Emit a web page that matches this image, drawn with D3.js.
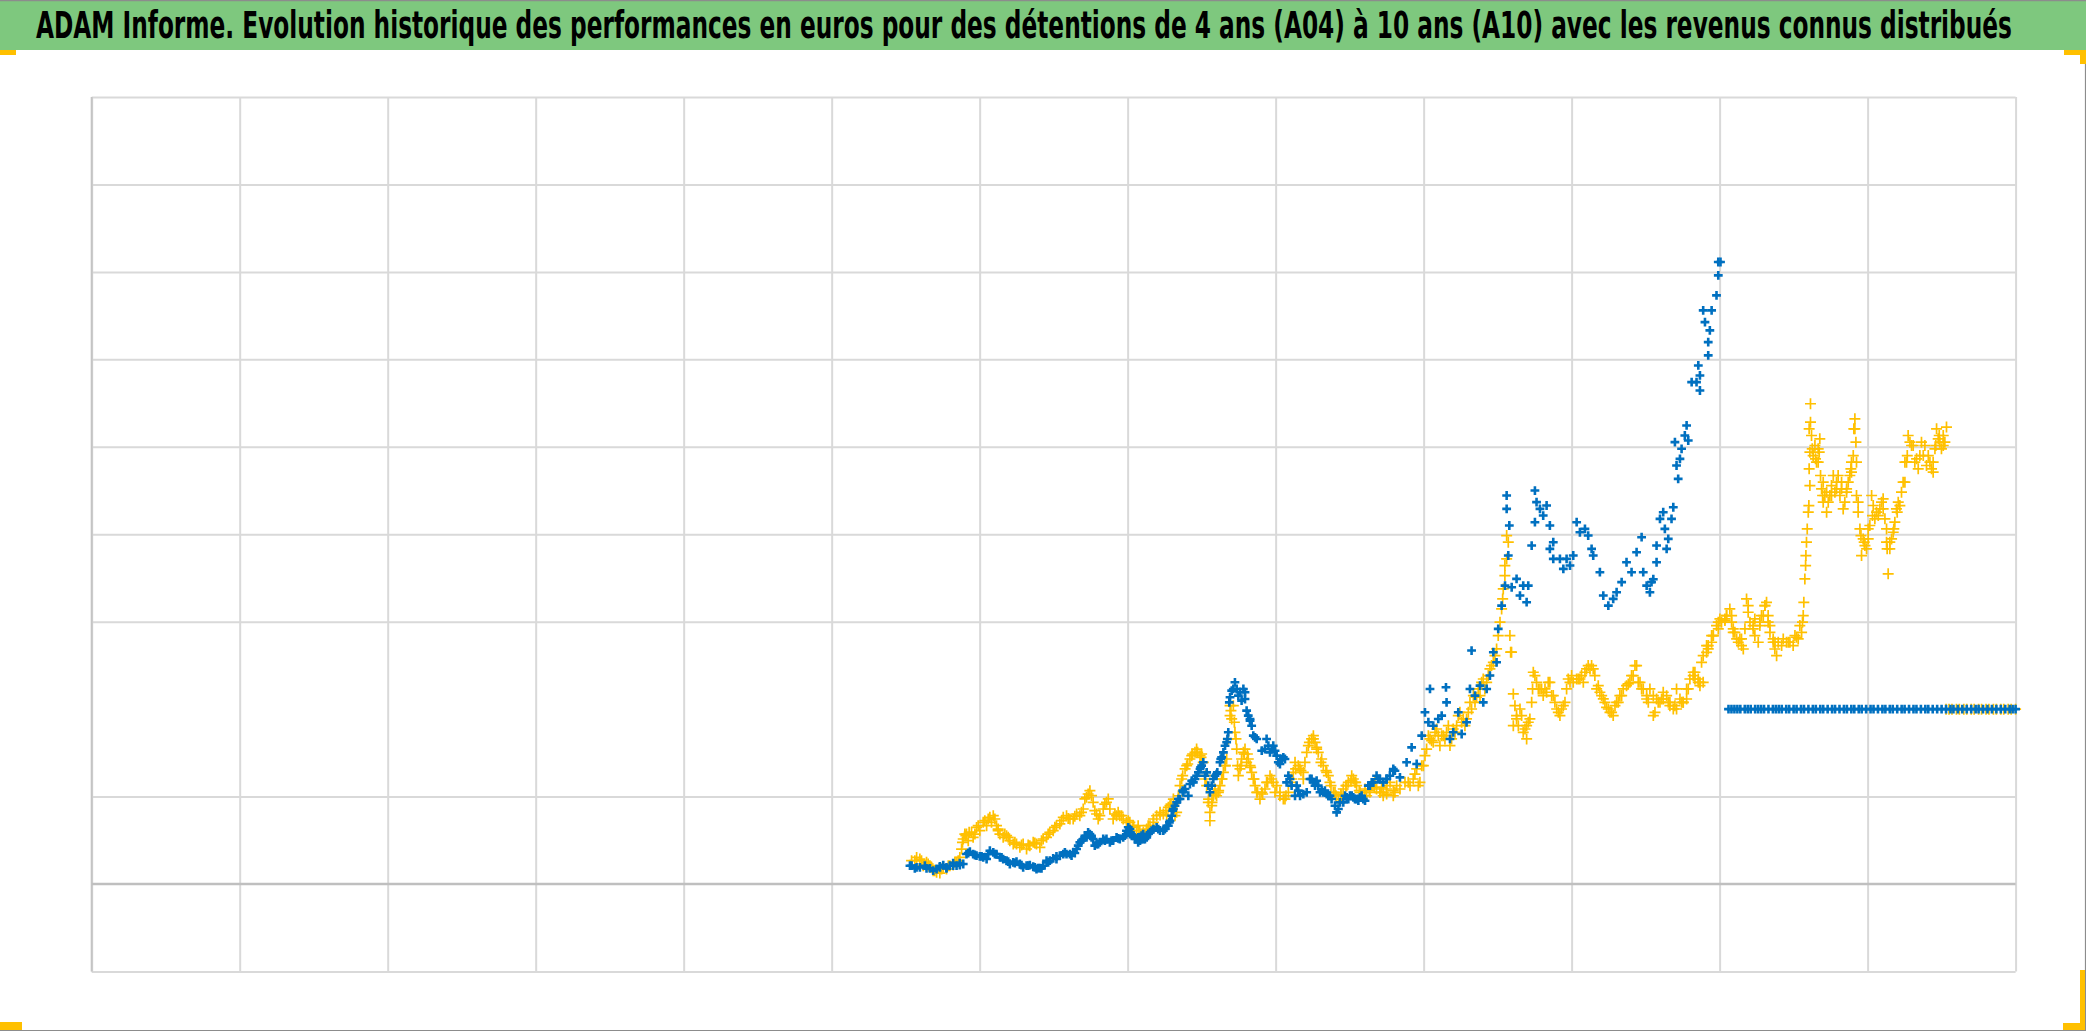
<!DOCTYPE html>
<html><head><meta charset="utf-8">
<script src="https://cdn.jsdelivr.net/npm/d3@7"></script>
<style>html,body{margin:0;padding:0;background:#fff;overflow:hidden}</style>
</head><body>
<svg id="chart" width="2086" height="1031"></svg>
<script>
// ---------- DATA (x in axis intervals, y in gridline units) ----------
const titleText = "ADAM Informe. Evolution historique des performances en euros pour des détentions de 4 ans (A04) à 10 ans (A10) avec les revenus connus distribués";
const xTicks = [0,1,2,3,4,5,6,7,8,9,10,11,12,13];
const yGridTicks = [-1,1,3,4,5,6,7,8,9];   // level 2 has no gridline in the source
const xDomain = [0, 13];
const yDomain = [-1, 9];

const blueEarly = [[5.540,0.21],[5.596,0.191],[5.664,0.179],[5.709,0.172],[5.754,0.217],[5.799,0.21],[5.844,0.21],[5.889,0.229],[5.911,0.343],[5.956,0.343],[6.001,0.317],[6.047,0.286],[6.092,0.362],[6.137,0.305],[6.182,0.267],[6.227,0.248],[6.272,0.229],[6.317,0.21],[6.362,0.198],[6.407,0.183],[6.429,0.21],[6.452,0.267],[6.497,0.294],[6.542,0.324],[6.565,0.343],[6.610,0.343],[6.632,0.362],[6.655,0.4],[6.677,0.477],[6.722,0.534],[6.745,0.572],[6.767,0.515],[6.790,0.458],[6.812,0.477],[6.857,0.515],[6.902,0.496],[6.947,0.515],[6.970,0.534],[6.992,0.61],[7.015,0.629],[7.037,0.553],
[7.061,0.515],[7.106,0.515],[7.151,0.591],[7.196,0.648],[7.241,0.61],[7.275,0.667],[7.298,0.781],[7.320,0.896],[7.354,0.972],[7.388,1.087],[7.421,1.144],[7.455,1.201],[7.489,1.316],[7.511,1.392],[7.534,1.277],[7.545,1.125],[7.556,1.049],[7.579,1.201],[7.601,1.258],[7.624,1.392],[7.647,1.506],[7.669,1.621],[7.680,1.735],[7.692,2.136],[7.703,2.212],[7.725,2.307],[7.748,2.155],[7.782,2.231],[7.793,2.116],[7.804,1.983],[7.827,1.888],[7.838,1.811],[7.861,1.678],[7.906,1.525],[7.939,1.659],[7.962,1.506],[7.984,1.582],[8.007,1.468],[8.029,1.373],[8.063,1.43],[8.086,1.239],[8.108,1.125],[8.142,1.125],[8.165,1.01],[8.210,1.049],[8.243,1.201],[8.277,1.182],[8.311,1.068],[8.345,1.029],[8.378,0.972],[8.412,0.82],[8.435,0.934],[8.469,1.01],[8.502,1.01],[8.536,0.972],[8.570,0.991],[8.604,0.953],[8.637,1.125],[8.682,1.239],[8.727,1.163]];

// further readings of the blue band (edges and in-between points)
const blueEarlyEdge = [[5.562,0.179],[5.630,0.21],[5.686,0.153],[5.731,0.191],[5.776,0.179],[5.821,0.24],[5.866,0.24],[5.934,0.37],[5.979,0.324],[6.024,0.305],[6.069,0.381],[6.114,0.343],[6.159,0.286],[6.204,0.229],[6.249,0.256],[6.294,0.191],[6.339,0.217],[6.384,0.172],[6.418,0.179],[6.474,0.267],[6.519,0.286],[6.576,0.362],[6.621,0.324],[6.666,0.439],[6.700,0.515],[6.733,0.591],[6.756,0.553],[6.778,0.439],[6.835,0.515],[6.880,0.477],[6.925,0.534],[6.981,0.553],[7.004,0.649],[7.026,0.572],[7.071,0.477],[7.105,0.572],
[7.039,0.553],[7.084,0.496],[7.129,0.534],[7.174,0.629],[7.219,0.61],[7.264,0.667],[7.286,0.724],[7.309,0.858],[7.331,0.934],[7.376,1.049],[7.410,1.01],[7.444,1.163],[7.478,1.277],[7.500,1.354],[7.523,1.239],[7.568,1.125],[7.590,1.239],[7.635,1.449],[7.658,1.582],[7.714,2.231],[7.770,2.097],[7.815,1.926],[7.849,1.697],[7.928,1.544],[7.973,1.544],[8.018,1.392],[8.041,1.43],[8.074,1.163],[8.131,1.01],[8.232,1.201],[8.266,1.125],[8.300,1.049],[8.333,1.068],[8.367,1.01],[8.424,0.858],[8.457,0.934],[8.491,0.972],[8.525,0.991],[8.559,0.953],[8.592,0.972],[8.626,1.125],[8.660,1.163],[8.705,1.201],[8.772,1.239],[8.806,1.296]];

const blueEarlyMid = [[5.529,0.21],[5.574,0.191],[5.641,0.179],[5.731,0.202],[5.776,0.191],[5.821,0.21],[5.866,0.217],[5.923,0.355],[5.968,0.332],[6.013,0.317],[6.058,0.343],[6.103,0.343],[6.148,0.305],[6.193,0.256],[6.238,0.24],[6.283,0.217],[6.328,0.21],[6.373,0.191],[6.396,0.183],[6.463,0.248],[6.519,0.317],[6.587,0.343],[6.643,0.355],[6.688,0.496],[6.711,0.553],[6.756,0.534],[6.801,0.458],[6.846,0.496],[6.891,0.496],[6.936,0.523],[7.015,0.591],[7.049,0.515],[7.094,0.553],[7.139,0.572],
[7.016,0.572],[7.072,0.534],[7.117,0.515],[7.162,0.61],[7.207,0.629],[7.252,0.629],[7.282,0.705],[7.304,0.839],[7.343,0.972],[7.372,1.068],[7.433,1.182],[7.466,1.239],[7.493,1.335],[7.606,1.277],[7.629,1.43],[7.674,1.659],[7.687,2.078],[7.737,2.231],[7.759,2.193],[7.793,2.193],[7.827,1.869],[7.872,1.659],[7.951,1.582],[7.996,1.525],[8.052,1.449],[8.097,1.201],[8.153,1.068],[8.187,1.029],[8.255,1.163],[8.288,1.125],[8.322,1.049],[8.356,1.01],[8.401,0.896],[8.480,0.991],[8.514,1.01],[8.547,0.972],[8.581,1.01],[8.649,1.163],[8.694,1.201],[8.750,1.201],[8.795,1.296]];

const blueLate = [[8.750,1.201],[8.795,1.316],[8.840,1.22],[8.885,1.392],[8.919,1.563],[8.953,1.373],[8.987,1.697],[9.009,1.964],[9.032,1.85],[9.043,2.231],[9.065,1.811],[9.099,1.888],[9.122,1.926],[9.151,2.25],[9.155,2.078],[9.178,1.659],[9.200,1.735],[9.234,1.964],[9.257,1.716],[9.290,1.85],[9.313,2.231],[9.324,2.67],[9.347,2.155],[9.381,2.269],[9.403,2.078],[9.426,2.231],[9.448,2.384],[9.471,2.651],[9.493,2.536],[9.504,2.918],[9.527,3.184],[9.550,3.413],[9.561,4.29],[9.561,4.443],[9.572,3.757],[9.579,4.1],[9.595,3.394],[9.628,3.49],[9.651,3.299],[9.673,3.413],[9.696,3.223],[9.707,3.413],[9.730,3.871],[9.752,4.138],[9.752,4.5],[9.763,4.367],[9.786,4.29],[9.808,4.214],[9.831,4.329],[9.853,4.1],[9.853,3.833],[9.876,3.909],[9.876,3.718],[9.921,3.718],[9.944,3.604],[9.966,3.718],[9.989,3.642],[10.011,3.757],[10.034,4.138],[10.056,4.023],[10.090,4.062],[10.112,3.985],[10.135,3.833],[10.146,3.757],[10.191,3.566],[10.214,3.299],[10.248,3.184],[10.281,3.261],[10.304,3.337],[10.338,3.452],[10.371,3.68],[10.405,3.566],[10.439,3.795],[10.473,3.966],[10.484,3.566],[10.507,3.413],[10.529,3.337],[10.540,3.452],
[10.552,3.486],[10.574,3.68],[10.574,3.871],[10.597,4.176],[10.619,4.252],[10.630,4.061],[10.642,3.833],[10.653,3.947],[10.675,4.176],[10.687,4.309],[10.698,5.053],[10.709,4.786],[10.720,4.633],[10.732,4.862],[10.743,4.977],[10.765,5.129],[10.777,5.244],[10.788,5.072],[10.811,5.74],[10.844,5.74],[10.856,5.93],[10.867,5.816],[10.867,5.644],[10.889,6.56],[10.901,6.426],[10.923,6.197],[10.923,6.045],[10.934,6.331],[10.946,6.56],[10.979,6.731],[10.991,6.96],[10.991,7.113],[11.006,7.113]];

const blueFlat = [[11.06,2],[11.08,2],[11.10,2],[11.12,2],[11.14,2],[11.17,2],[11.19,2],[11.21,2],[11.24,2],[11.26,2],[11.28,2],[11.30,2],[11.33,2],[11.36,2],[11.38,2],[11.40,2],[11.42,2],[11.45,2],[11.47,2],[11.50,2],[11.52,2],[11.55,2],[11.57,2],[11.60,2],[11.63,2],[11.65,2],[11.68,2],[11.70,2],[11.73,2],[11.76,2],[11.78,2],[11.81,2],[11.84,2],[11.86,2],[11.89,2],[11.91,2],[11.94,2],[11.96,2],[11.99,2],[12.02,2],[12.04,2],[12.07,2],[12.10,2],[12.12,2],[12.15,2],[12.17,2],[12.20,2],[12.23,2],[12.25,2],[12.28,2],[12.31,2],[12.33,2],[12.36,2],[12.39,2],[12.41,2],[12.44,2],[12.47,2],[12.50,2],[12.53,2],[12.56,2],[12.58,2],[12.61,2],[12.64,2],[12.67,2],[12.70,2],[12.73,2],[12.75,2],[12.78,2],[12.81,2],[12.84,2],[12.87,2],[12.90,2],[12.93,2],[12.96,2],[12.98,2],[13.00,2]];

const yellowEarly = [[5.540,0.267],[5.596,0.286],[5.641,0.248],[5.686,0.153],[5.709,0.134],[5.754,0.191],[5.799,0.21],[5.833,0.248],[5.866,0.305],[5.889,0.515],[5.911,0.572],[5.945,0.591],[5.979,0.648],[6.024,0.706],[6.069,0.763],[6.092,0.782],[6.114,0.668],[6.137,0.572],[6.170,0.572],[6.204,0.496],[6.249,0.458],[6.294,0.458],[6.339,0.439],[6.384,0.458],[6.429,0.515],[6.474,0.591],[6.519,0.668],[6.565,0.763],[6.610,0.744],[6.655,0.801],[6.700,0.858],[6.733,1.03],[6.756,1.011],[6.778,0.839],[6.812,0.782],[6.857,0.934],[6.880,0.858],[6.902,0.744],[6.936,0.82],[6.970,0.744],[7.015,0.706],
[7.061,0.61],[7.106,0.591],[7.151,0.667],[7.196,0.781],[7.241,0.8],[7.275,0.877],[7.309,0.972],[7.331,0.82],[7.354,1.125],[7.388,1.316],[7.421,1.43],[7.455,1.506],[7.489,1.468],[7.511,1.392],[7.534,1.125],[7.556,0.82],[7.579,1.01],[7.601,1.01],[7.624,1.125],[7.647,1.277],[7.669,1.43],[7.680,1.659],[7.692,1.926],[7.714,2.04],[7.725,1.735],[7.737,1.544],[7.748,1.239],[7.770,1.43],[7.793,1.544],[7.815,1.43],[7.838,1.277],[7.861,1.125],[7.894,0.972],[7.928,1.087],[7.962,1.239],[8.007,1.125],[8.052,0.972],[8.086,1.049],[8.119,1.277],[8.153,1.354],[8.187,1.277],[8.210,1.506],[8.243,1.659],[8.266,1.621],[8.288,1.506],[8.322,1.354],[8.356,1.239],[8.390,1.049],[8.424,0.972],[8.457,1.087],[8.491,1.163],[8.525,1.201],[8.547,1.125],[8.581,1.01],[8.615,1.01],[8.649,1.125],[8.682,1.087],[8.727,1.01]];

// further readings of the yellow band (edges and in-between points)
const yellowEarlyEdge = [[5.574,0.305],[5.619,0.21],[5.664,0.21],[5.675,0.191],[5.731,0.126],[5.776,0.172],[5.821,0.217],[5.855,0.267],[5.878,0.4],[5.900,0.572],[5.923,0.496],[5.956,0.534],[5.968,0.572],[6.001,0.61],[6.047,0.668],[6.080,0.706],[6.103,0.744],[6.125,0.61],[6.159,0.534],[6.182,0.553],[6.227,0.458],[6.272,0.42],[6.317,0.401],[6.362,0.477],[6.407,0.42],[6.452,0.534],[6.497,0.61],[6.542,0.687],[6.587,0.782],[6.632,0.744],[6.677,0.782],[6.711,0.973],[6.745,1.068],[6.767,0.935],[6.801,0.744],[6.835,0.858],[6.869,0.973],[6.914,0.801],[6.947,0.782],[6.992,0.706],[7.037,0.668],[7.082,0.61],[7.127,0.591],
[7.039,0.667],[7.084,0.553],[7.129,0.629],[7.174,0.744],[7.219,0.82],[7.264,0.782],[7.286,0.896],[7.320,0.782],[7.343,1.01],[7.365,1.201],[7.399,1.354],[7.433,1.468],[7.466,1.544],[7.500,1.487],[7.523,1.201],[7.545,0.934],[7.556,0.724],[7.568,0.896],[7.590,1.087],[7.613,1.049],[7.635,1.201],[7.658,1.354],[7.692,2.04],[7.703,1.888],[7.732,1.659],[7.759,1.316],[7.782,1.506],[7.804,1.392],[7.827,1.354],[7.849,1.201],[7.872,1.049],[7.906,1.049],[7.939,1.163],[7.973,1.201],[7.996,1.049],[8.029,1.01],[8.063,0.972],[8.108,1.201],[8.131,1.392],[8.164,1.316],[8.187,1.201],[8.221,1.583],[8.255,1.697],[8.277,1.544],[8.311,1.43],[8.345,1.277],[8.367,1.163],[8.401,1.049],[8.446,1.01],[8.480,1.125],[8.514,1.239],[8.536,1.163],[8.570,1.049],[8.604,1.087],[8.637,1.049],[8.671,1.163],[8.705,1.049],[8.750,1.087],[8.795,1.01]];

const yellowEarlyMid = [[5.562,0.267],[5.607,0.267],[5.652,0.229],[5.697,0.153],[5.743,0.172],[5.788,0.21],[5.844,0.248],[5.884,0.477],[5.907,0.553],[5.929,0.591],[5.990,0.668],[6.035,0.725],[6.058,0.744],[6.125,0.629],[6.193,0.534],[6.238,0.477],[6.283,0.446],[6.328,0.446],[6.373,0.469],[6.418,0.496],[6.463,0.572],[6.508,0.649],[6.553,0.725],[6.598,0.751],[6.643,0.774],[6.688,0.82],[6.722,0.992],[6.790,0.801],[6.846,0.915],[6.925,0.782],[6.959,0.782],[7.004,0.725],[7.071,0.668],[7.139,0.668],
[7.039,0.648],[7.084,0.572],[7.129,0.61],[7.174,0.705],[7.219,0.789],[7.259,0.839],[7.293,0.915],[7.343,0.972],[7.372,1.239],[7.406,1.373],[7.439,1.487],[7.473,1.506],[7.496,1.449],[7.525,1.239],[7.547,0.972],[7.570,0.934],[7.593,1.03],[7.615,1.068],[7.638,1.201],[7.660,1.354],[7.698,1.983],[7.721,1.85],[7.743,1.354],[7.766,1.354],[7.788,1.487],[7.809,1.487],[7.831,1.335],[7.854,1.201],[7.878,1.049],[7.912,1.03],[7.946,1.163],[7.984,1.163],[8.029,1.049],[8.070,1.01],[8.104,1.163],[8.135,1.316],[8.171,1.296],[8.198,1.392],[8.228,1.621],[8.255,1.659],[8.277,1.563],[8.306,1.392],[8.340,1.296],[8.374,1.125],[8.408,1.01],[8.441,1.029],[8.475,1.125],[8.509,1.182],[8.541,1.163],[8.565,1.068],[8.599,1.01],[8.633,1.068],[8.667,1.106],[8.705,1.049],[8.750,1.029],[8.795,1.068]];

const yellowLate = [[8.773,1.163],[8.840,1.087],[8.908,1.125],[8.953,1.316],[8.975,1.163],[8.998,1.354],[9.020,1.544],[9.043,1.659],[9.065,1.621],[9.088,1.773],[9.122,1.697],[9.155,1.735],[9.178,1.583],[9.200,1.773],[9.234,1.926],[9.257,1.85],[9.290,1.888],[9.313,2.078],[9.336,2.155],[9.369,2.231],[9.392,2.307],[9.414,2.231],[9.437,2.384],[9.459,2.498],[9.482,2.612],[9.504,2.841],[9.527,3.146],[9.538,3.375],[9.549,3.528],[9.561,3.718],[9.561,3.985],[9.572,3.909],[9.583,2.841],[9.588,2.651],[9.606,2.174],[9.606,1.811],[9.628,1.926],[9.651,2.002],[9.685,1.773],[9.696,1.659],[9.718,1.888],[9.730,2.078],[9.741,2.422],[9.763,2.307],[9.797,2.231],[9.831,2.193],[9.853,2.307],[9.887,2.078],[9.921,1.926],[9.955,2.078],[9.977,2.345],[10.011,2.307],[10.056,2.345],[10.090,2.422],[10.112,2.498],[10.146,2.46],[10.169,2.231],[10.203,2.155],[10.259,1.964],[10.293,2.04],[10.326,2.155],[10.371,2.269],[10.416,2.384],[10.439,2.498],[10.450,2.307],[10.484,2.231],[10.507,2.116],
[10.529,2.231],[10.574,2.116],[10.619,2.193],[10.664,2.04],[10.709,2.231],[10.754,2.078],[10.799,2.345],[10.833,2.422],[10.867,2.269],[10.889,2.612],[10.923,2.727],[10.957,2.841],[10.979,2.956],[11.013,2.994],[11.047,3.07],[11.069,3.146],[11.092,2.879],[11.126,2.765],[11.160,2.688],[11.182,3.26],[11.205,2.994],[11.238,2.841],[11.272,2.956],[11.306,3.184],[11.317,3.222],[11.340,2.879],[11.373,2.688],[11.396,2.765],[11.430,2.803],[11.475,2.765],[11.509,2.841],[11.542,2.956],[11.565,3.07],[11.569,3.222],[11.576,3.489],[11.581,3.642],[11.583,3.756],[11.587,3.909],[11.592,4.061],[11.599,4.252],[11.603,4.328],[11.605,4.748],[11.605,5.206],[11.610,4.557],[11.610,4.939],[11.614,5.282],[11.614,5.492],[11.632,4.9],[11.655,4.824],[11.666,4.977],[11.677,5.091],[11.689,4.519],[11.700,4.367],[11.723,4.252],[11.745,4.443],[11.768,4.672],[11.790,4.595],[11.813,4.443],[11.835,4.29],[11.858,4.519],[11.880,4.672],[11.891,4.824],[11.903,4.9],[11.907,5.206],[11.914,5.32],[11.921,5.053],[11.925,4.443],[11.936,4.367],[11.948,4.061],[11.959,3.756],[11.982,3.871],[12.004,3.947],[12.027,4.443],[12.049,4.176],[12.083,4.29],[12.105,4.405],[12.128,3.909],[12.139,3.547],[12.150,3.833],[12.173,4.023],[12.195,4.29],[12.218,4.328],[12.252,4.595],[12.263,4.824],[12.274,5.129],[12.308,5.015],[12.342,4.748],[12.364,5.053],[12.398,4.786],[12.432,4.748],[12.455,4.977],[12.466,5.206],[12.488,5.053],[12.511,5.129],[12.533,5.225]];

const yellowLateEdge = [[8.728,1.049],[8.750,1.125],[8.806,1.049],[8.874,1.163],[8.930,1.201],[8.964,1.125],[9.009,1.468],[9.032,1.697],[9.077,1.735],[9.110,1.582],[9.144,1.659],[9.167,1.811],[9.189,1.659],[9.223,1.811],[9.245,1.964],[9.279,1.811],[9.302,1.964],[9.347,2.078],[9.381,2.155],[9.403,2.345],[9.426,2.307],[9.448,2.46],[9.471,2.536],[9.493,2.689],[9.516,2.994],[9.534,3.261],[9.549,3.642],[9.594,2.651],[9.617,2.04],[9.640,1.811],[9.662,1.926],[9.673,1.735],[9.707,1.85],[9.752,2.384],[9.775,2.231],[9.808,2.155],[9.842,2.307],[9.865,2.155],[9.899,2.002],[9.932,2.002],[9.966,2.231],[10.000,2.384],[10.034,2.345],[10.079,2.307],[10.101,2.46],[10.135,2.498],[10.157,2.384],[10.191,2.193],[10.225,2.078],[10.248,2.002],[10.281,1.926],[10.315,2.078],[10.349,2.231],[10.394,2.307],[10.428,2.498],[10.462,2.307],[10.507,2.155],[10.552,1.926],[10.585,2.078],[10.619,2.116],[10.664,2.078],[10.709,2.002],[10.754,2.078],[10.788,2.231],[10.822,2.422],[10.856,2.345],[10.889,2.307],[10.923,2.689],[10.957,2.841],[11.002,3.032],[11.047,3.07],[11.092,2.918],[11.137,2.803],[11.193,3.184],[11.227,2.956],[11.272,2.994],[11.306,3.184],[11.340,2.956],[11.374,2.765],
[10.552,2.154],[10.597,2.078],[10.642,2.154],[10.687,2.002],[10.732,2.116],[10.777,2.231],[10.822,2.383],[10.856,2.307],[10.878,2.536],[10.912,2.65],[10.946,2.765],[10.991,2.917],[11.036,3.013],[11.081,2.994],[11.115,2.803],[11.148,2.727],[11.193,3.108],[11.227,2.917],[11.261,2.765],[11.295,3.07],[11.328,2.994],[11.362,2.765],[11.385,2.612],[11.419,2.727],[11.452,2.765],[11.497,2.727],[11.531,2.803],[11.554,2.879],
[11.621,5.129],[11.644,5.015],[11.666,4.824],[11.682,4.672],[11.696,4.443],[11.711,4.443],[11.734,4.367],[11.756,4.557],[11.779,4.481],[11.801,4.672],[11.824,4.519],[11.846,4.367],[11.869,4.595],[11.891,4.71],[11.914,5.206],[11.936,4.252],[11.970,3.947],[11.993,3.833],[12.015,4.1],[12.038,4.329],[12.072,4.214],[12.094,4.367],[12.117,4.176],[12.132,3.833],[12.162,3.947],[12.184,4.138],[12.207,4.367],[12.229,4.481],[12.252,4.824],[12.286,5.053],[12.319,4.824],[12.353,4.9],[12.387,5.015],[12.421,4.824],[12.443,4.824],[12.477,5.091],[12.499,4.977],[12.522,5.053]];

const yellowLateMid = [[8.716,1.106],[8.818,1.125],[8.896,1.163],[8.941,1.258],[8.987,1.354],[9.054,1.64],[9.099,1.697],[9.133,1.697],[9.212,1.735],[9.268,1.888],[9.324,2.002],[9.358,2.136],[9.628,1.888],[9.696,1.811],[9.736,2.231],[9.786,2.231],[9.820,2.231],[9.876,2.155],[9.910,1.964],[9.944,2.04],[9.989,2.307],[10.045,2.345],[10.067,2.384],[10.124,2.46],[10.180,2.269],[10.214,2.117],[10.236,2.021],[10.270,1.964],[10.304,2.078],[10.338,2.155],[10.383,2.288],[10.405,2.384],[10.473,2.231],[10.518,2.078],[10.563,1.964],[10.608,2.116],[10.653,2.078],[10.698,2.04],[10.743,2.078],[10.777,2.116],[10.833,2.345],[10.867,2.307],[10.912,2.727],[10.946,2.841],[10.991,2.994],[11.036,3.032],[11.081,3.07],[11.103,2.879],[11.148,2.803],[11.171,2.918],[11.238,3.032],[11.283,3.07],[11.328,3.07],[11.362,2.803],
[11.464,2.765],[11.520,2.822],[11.560,2.994],[11.626,4.977],[11.648,4.862],[11.673,4.939],[11.700,4.595],[11.723,4.481],[11.756,4.443],[11.790,4.519],[11.824,4.595],[11.858,4.481],[11.887,4.748],[11.925,4.824],[11.955,3.985],[11.977,3.909],[12.004,4.061],[12.033,4.214],[12.060,4.252],[12.105,4.29],[12.128,4.061],[12.150,3.909],[12.177,4.061],[12.200,4.252],[12.240,4.595],[12.268,4.9],[12.297,5.015],[12.331,4.862],[12.376,4.9],[12.410,4.9],[12.443,4.71],[12.461,5.015],[12.484,5.129],[12.511,5.015]];

const yellowFlat = [[12.53,2],[12.55,2],[12.57,2],[12.60,2],[12.62,2],[12.65,2],[12.67,2],[12.70,2],[12.72,2],[12.75,2],[12.77,2],[12.80,2],[12.82,2],[12.85,2],[12.87,2],[12.90,2],[12.92,2],[12.95,2],[12.97,2],[13.00,2]];

// ---------- DRAWING ----------
const W = 2086, H = 1031;
const svg = d3.select("#chart");
const plot = {left: 91.7, right: 2015.6, top: 97, bottom: 971.5};
const x = d3.scaleLinear().domain(xDomain).range([plot.left, plot.right]);
const y = d3.scaleLinear().domain(yDomain).range([plot.bottom, plot.top]);

svg.append("rect").attr("width", W).attr("height", H).attr("fill", "#fff");

// title bar
svg.append("rect").attr("x", 0).attr("y", 0).attr("width", W).attr("height", 50).attr("fill", "#7ec87e");
svg.append("line").attr("x1", 0).attr("x2", W).attr("y1", 0.5).attr("y2", 0.5).attr("stroke", "#8c8c8c").attr("stroke-width", 1.5);
const title = svg.append("text").attr("x", 0).attr("y", 0)
  .attr("font-family", "'Liberation Sans Narrow','DejaVu Sans Condensed','Open Sans',sans-serif")
  .attr("font-weight", "bold").attr("font-size", 37).attr("fill", "#000")
  .text(titleText);
const natural = title.node().getComputedTextLength();
const sx = 1977 / natural;
title.attr("transform", `translate(36,38) scale(${sx},1)`);

// gridlines
const gx = svg.append("g").attr("transform", `translate(0,${plot.bottom})`)
  .call(d3.axisBottom(x).tickValues(xTicks).tickSize(-(plot.bottom - plot.top)).tickFormat(""));
gx.select(".domain").remove();
gx.selectAll("line").attr("stroke", "#d9d9d9").attr("stroke-width", 2);

const gy = svg.append("g").attr("transform", `translate(${plot.left},0)`)
  .call(d3.axisLeft(y).tickValues(yGridTicks).tickSize(-(plot.right - plot.left)).tickFormat(""));
gy.select(".domain").remove();
gy.selectAll("line").attr("stroke", "#d9d9d9").attr("stroke-width", 2);

// axis lines
svg.append("line").attr("x1", x(0)).attr("x2", x(0)).attr("y1", y(9)).attr("y2", y(-1))
  .attr("stroke", "#c4c4c4").attr("stroke-width", 2);
svg.append("line").attr("x1", x(0)).attr("x2", x(13)).attr("y1", y(0)).attr("y2", y(0))
  .attr("stroke", "#bfbfbf").attr("stroke-width", 2.5);

// markers
function plus(s) { return `M${-s},0H${s}M0,${-s}V${s}`; }
function drawSeries(data, color, size, width) {
  svg.append("g").selectAll("path").data(data).join("path")
    .attr("transform", d => `translate(${x(d[0])},${y(d[1])})`)
    .attr("d", plus(size)).attr("fill", "none")
    .attr("stroke", color).attr("stroke-width", width);
}
const yellowColor = "#ffc000", blueColor = "#0070c0";
[yellowEarly, yellowEarlyEdge, yellowEarlyMid, yellowLate, yellowLateEdge, yellowLateMid, yellowFlat]
  .forEach(s => drawSeries(s, yellowColor, 5.5, 1.7));
[blueEarly, blueEarlyEdge, blueEarlyMid, blueLate, blueFlat]
  .forEach(s => drawSeries(s, blueColor, 4.4, 2.6));

// frame and selection handles
svg.append("line").attr("x1", 2085.5).attr("x2", 2085.5).attr("y1", 50).attr("y2", H).attr("stroke", "#8c8c8c").attr("stroke-width", 1.2);
svg.append("line").attr("x1", 0).attr("x2", W).attr("y1", 1030.5).attr("y2", 1030.5).attr("stroke", "#8c8c8c").attr("stroke-width", 1.2);
const handles = [[0,50,16,5],[2064,50,22,5],[2080,50,6,14],[0,1022,22,8],[2080,970,5,60],[2063,1023,22,7]];
svg.append("g").selectAll("rect").data(handles).join("rect")
  .attr("x", d => d[0]).attr("y", d => d[1]).attr("width", d => d[2]).attr("height", d => d[3])
  .attr("fill", yellowColor);
</script>
</body></html>
